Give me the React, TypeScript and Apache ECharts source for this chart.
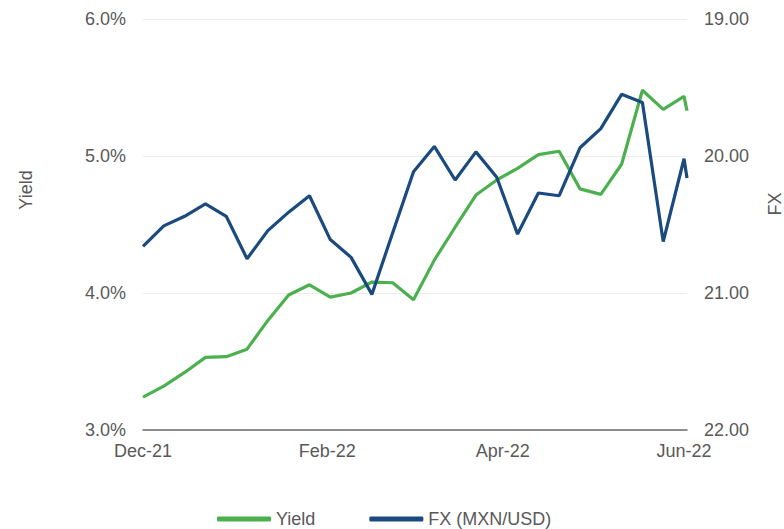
import React, { useEffect, useRef } from "react";
import * as echarts from "echarts";

// Weekly observation dates (plus one extra final day)
const obsDates = [
  "2021-12-01", "2021-12-08", "2021-12-15", "2021-12-22", "2021-12-29",
  "2022-01-05", "2022-01-12", "2022-01-19", "2022-01-26",
  "2022-02-02", "2022-02-09", "2022-02-16", "2022-02-23",
  "2022-03-02", "2022-03-09", "2022-03-16", "2022-03-23", "2022-03-30",
  "2022-04-06", "2022-04-13", "2022-04-20", "2022-04-27",
  "2022-05-04", "2022-05-11", "2022-05-18", "2022-05-25",
  "2022-06-01", "2022-06-02",
];

// Yield (%), left axis
const yieldValues = [
  3.24, 3.32, 3.42, 3.53, 3.535, 3.59, 3.8, 3.985, 4.06, 3.97, 4.0, 4.08, 4.075, 3.95,
  4.24, 4.48, 4.715, 4.825, 4.91, 5.01, 5.035, 4.76, 4.72, 4.94, 5.48, 5.34, 5.435, 5.33,
];

// FX (MXN/USD), right axis (inverted)
const fxValues = [
  20.66, 20.51, 20.44, 20.35, 20.44, 20.75, 20.545, 20.41, 20.29, 20.61, 20.74, 21.01, 20.56, 20.115,
  19.93, 20.175, 19.97, 20.155, 20.57, 20.27, 20.29, 19.94, 19.8, 19.55, 19.61, 20.625, 20.02, 20.16,
];

// Dates carrying x-axis labels
const labelDates = ["2021-12-01", "2022-02-01", "2022-04-01", "2022-06-01"];
const monthNames = ["Jan", "Feb", "Mar", "Apr", "May", "Jun", "Jul", "Aug", "Sep", "Oct", "Nov", "Dec"];

const seriesNames = ["Yield", "FX (MXN/USD)"];
const leftTicks = { min: 3, max: 6, interval: 1 };
const rightTicks = { min: 19, max: 22, interval: 1 };

function buildDailyCategories(start: string, end: string): string[] {
  const out: string[] = [];
  const d = new Date(start + "T00:00:00Z");
  const e = new Date(end + "T00:00:00Z");
  while (d.getTime() <= e.getTime()) {
    out.push(d.toISOString().slice(0, 10));
    d.setUTCDate(d.getUTCDate() + 1);
  }
  return out;
}

function fmtDate(s: string): string {
  const [y, m] = s.split("-");
  return monthNames[Number(m) - 1] + "-" + y.slice(2);
}

const FONT = "'Liberation Sans', Arial, Helvetica, sans-serif";
const TEXT = "#595959";
const GREEN = "#4cb04f";
const BLUE = "#1a4a7e";

export default function App() {
  const ref = useRef<HTMLDivElement>(null);

  useEffect(() => {
    if (!ref.current) return;
    const chart = echarts.init(ref.current, undefined, { renderer: "svg" });
    const categories = buildDailyCategories(obsDates[0], obsDates[obsDates.length - 1]);
    const yieldData = obsDates.map((d, i) => [d, yieldValues[i]]);
    const fxData = obsDates.map((d, i) => [d, fxValues[i]]);

    chart.setOption({
      animation: false,
      textStyle: { fontFamily: FONT },
      grid: { left: 143, right: 97, top: 19, bottom: 99, containLabel: false },
      legend: {
        data: seriesNames,
        left: 217,
        top: 510,
        padding: 0,
        icon: "roundRect",
        itemWidth: 54,
        itemHeight: 5,
        itemGap: 54,
        textStyle: { fontSize: 18, color: TEXT, fontFamily: FONT, padding: [0, 0, 0, 0] },
      },
      xAxis: {
        type: "category",
        data: categories,
        boundaryGap: false,
        axisLine: { show: true, lineStyle: { color: "#6b6b6b", width: 1.5 } },
        axisTick: { show: false },
        splitLine: { show: false },
        axisLabel: {
          interval: (_i: number, v: string) => labelDates.includes(v),
          formatter: (v: string) => fmtDate(v),
          color: TEXT,
          fontSize: 18,
          fontFamily: FONT,
          margin: 12,
        },
      },
      yAxis: [
        {
          type: "value",
          ...leftTicks,
          axisLine: { show: false },
          axisTick: { show: false },
          splitLine: { show: true, lineStyle: { color: "#ececec", width: 1.2 } },
          axisLabel: {
            formatter: (v: number) => v.toFixed(1) + "%",
            color: TEXT,
            fontSize: 18,
            fontFamily: FONT,
            margin: 17,
          },
        },
        {
          type: "value",
          ...rightTicks,
          inverse: true,
          axisLine: { show: false },
          axisTick: { show: false },
          splitLine: { show: false },
          axisLabel: {
            formatter: (v: number) => v.toFixed(2),
            color: TEXT,
            fontSize: 18,
            fontFamily: FONT,
            margin: 17,
          },
        },
      ],
      graphic: [
        {
          type: "text",
          x: 26,
          y: 190,
          rotation: Math.PI / 2,
          style: { text: "Yield", fill: TEXT, font: `18px ${FONT}`, align: "center", verticalAlign: "middle" },
        },
        {
          type: "text",
          x: 775,
          y: 204,
          rotation: Math.PI / 2,
          style: { text: "FX", fill: TEXT, font: `18px ${FONT}`, align: "center", verticalAlign: "middle" },
        },
      ],
      series: [
        {
          name: seriesNames[0],
          type: "line",
          yAxisIndex: 0,
          data: yieldData,
          showSymbol: false,
          symbol: "none",
          connectNulls: true,
          lineStyle: { color: GREEN, width: 3.2 },
          itemStyle: { color: GREEN },
          z: 2,
        },
        {
          name: seriesNames[1],
          type: "line",
          yAxisIndex: 1,
          data: fxData,
          showSymbol: false,
          symbol: "none",
          connectNulls: true,
          lineStyle: { color: BLUE, width: 3.2 },
          itemStyle: { color: BLUE },
          z: 3,
        },
      ],
    });
    return () => chart.dispose();
  }, []);

  return (
    <div
      ref={ref}
      style={{ position: "fixed", left: 0, top: 0, width: 784, height: 529, background: "#ffffff" }}
    />
  );
}
